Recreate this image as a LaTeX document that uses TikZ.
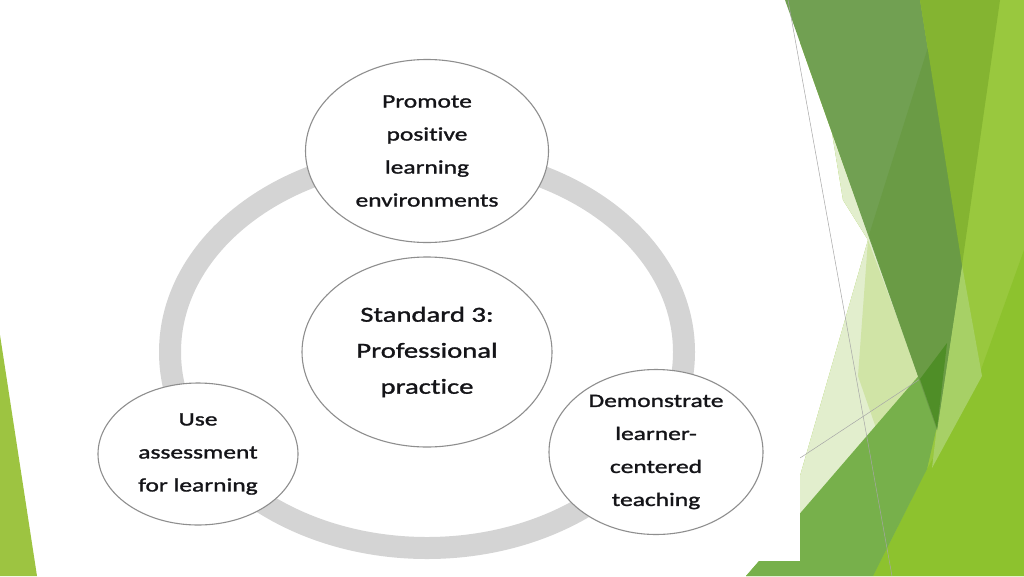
\documentclass[tikz,border=0pt]{standalone}
\usepackage{fontspec}
\usepackage{tikz}
\usetikzlibrary{shapes.geometric}
\newfontfamily\diagfont[FakeStretch=1.34, FakeBold=1.4, Ligatures=NoCommon]{Carlito}
\definecolor{lightleaf}{HTML}{99C83E}
\definecolor{brightleaf}{HTML}{8DC22E}
\definecolor{midleaf}{HTML}{77B04B}
\definecolor{paleleaf}{HTML}{E2EECD}
\definecolor{softleaf}{HTML}{D0E4A6}
\definecolor{stripleaf}{HTML}{A7D066}
\definecolor{bandleaf}{HTML}{71A052}
\definecolor{banddark}{HTML}{6A9B45}
\definecolor{oliveleaf}{HTML}{84B431}
\definecolor{deepleaf}{HTML}{4F8E27}
\definecolor{edgeleaf}{HTML}{9DC441}
\definecolor{ringgrey}{HTML}{D4D4D4}
\definecolor{rimgrey}{HTML}{8E8E8E}
\definecolor{inkdark}{HTML}{141418}

\begin{document}
\begin{tikzpicture}[x=1pt, y=-1pt,
  bubble/.style={ellipse, draw=rimgrey, line width=1.1pt, fill=white, inner sep=0pt,
    align=center, text=inkdark, font=\diagfont\fontsize{19}{33}\selectfont},
  hairline/.style={draw=gray!70, line width=0.5pt}]
\useasboundingbox (0,0) rectangle (1024,576);
\fill[white] (0,0) rectangle (1024,576);

% facets behind the picture
\fill[lightleaf] (785,0) -- (1024,0) -- (1024,576) -- (746,576) -- (800,515) -- (800,476)
  -- (868,240) -- (843,200) -- (832,133) -- cycle;
\fill[brightleaf] (1024,250) -- (1024,576) -- (873,576) -- (927,469) -- (978,378) -- cycle;
\fill[paleleaf] (832,133) -- (920,379) -- (800,515) -- (800,476) -- (868,240) -- (843,200) -- cycle;
\fill[softleaf] (868,240) -- (920,379) -- (876,428) -- (858,376) -- cycle;
\fill[stripleaf] (962,265) -- (982,376) -- (932,468) -- (937,426) -- cycle;
\fill[midleaf] (746,576) -- (947,343) -- (937,426) -- (927,469) -- (873,576) -- cycle;
\coordinate (L1) at (800,458); \coordinate (L2) at (920,379);
\draw[hairline] (L1) -- (L2);

% white picture area
\fill[white] (0,0) rectangle (800,561);

% facets in front
\fill[bandleaf] (785,0) -- (920,0) -- (962,265) -- (937,430) -- cycle;
\fill[banddark] (935,25) -- (962,265) -- (937,430) -- (869,235) -- cycle;
\fill[oliveleaf] (920,0) -- (1000,0) -- (962,265) -- cycle;
\fill[deepleaf] (920,379) -- (947,343) -- (937,428) -- cycle;
\fill[edgeleaf] (0,335) -- (37,576) -- (0,576) -- cycle;
\coordinate (T1) at (788,0); \coordinate (T2) at (892,576);
\draw[hairline] (T1) -- (T2);

% the diagram
\coordinate (hub) at (427,352);
\draw[ringgrey, line width=22pt] (hub) ellipse [x radius=257pt, y radius=196pt];

\node[bubble, minimum width=250pt, minimum height=190pt,
  font=\diagfont\fontsize{21.4}{36}\selectfont] (practice) at (hub)
  {Standard 3:\\Professional\\practice};
\node[bubble, minimum width=243pt, minimum height=183pt] (promote) at (427,151)
  {Promote\\positive\\learning\\environments};
\node[bubble, minimum width=200pt, minimum height=142pt] (assess) at (198,454)
  {Use\\assessment\\for learning};
\node[bubble, minimum width=214pt, minimum height=165pt] (teaching) at (656,452)
  {Demonstrate\\learner-\\centered\\teaching};

\end{tikzpicture}
\end{document}
